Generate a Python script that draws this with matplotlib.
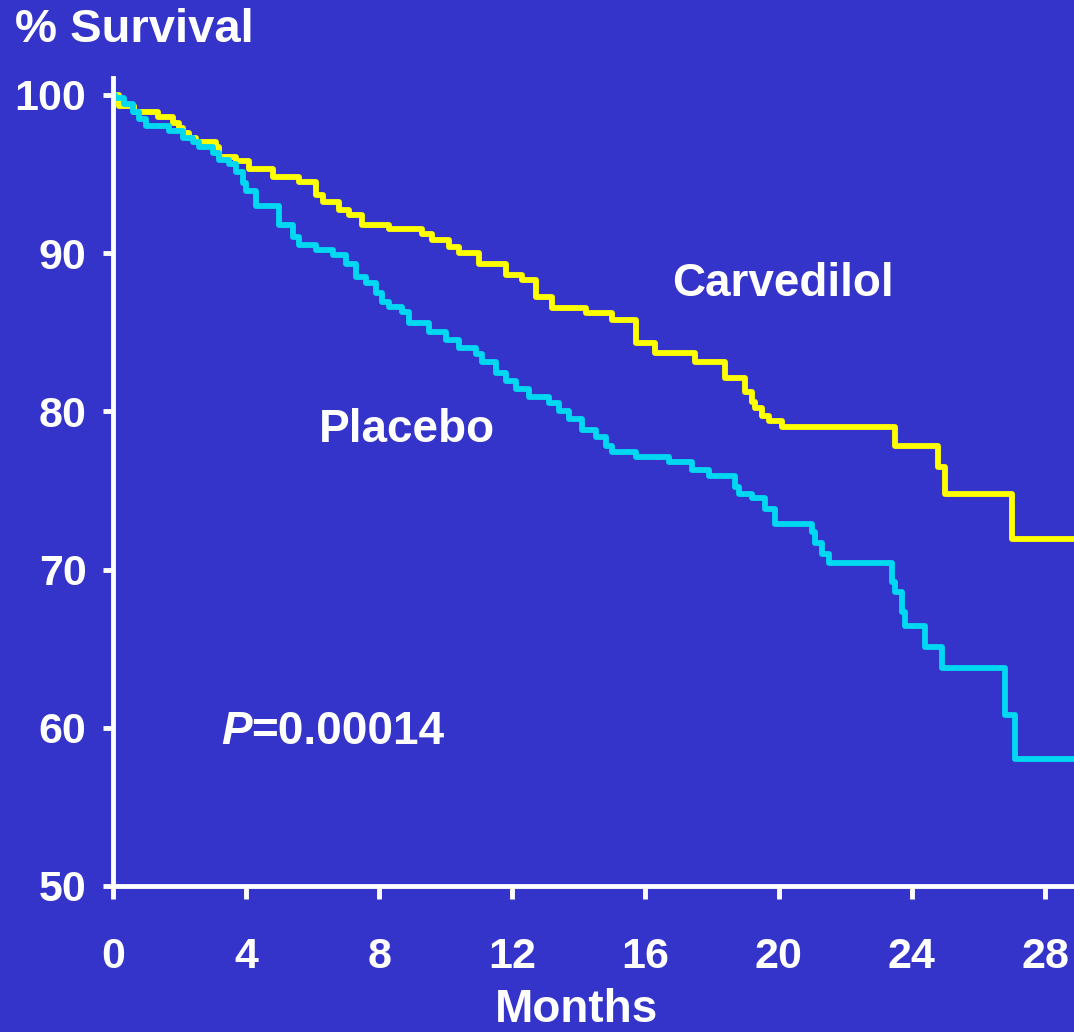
import matplotlib
matplotlib.use("Agg")
import matplotlib.pyplot as plt

# Kaplan-Meier style curves
carv_months = [0, 0.2, 0.65, 1.35, 1.8, 2.0, 2.1, 2.3, 2.5, 3.1, 3.2, 3.7, 4.1, 4.8,
               5.6, 6.1, 6.3, 6.8, 7.1, 7.5, 8.3, 9.3, 9.6, 10.1, 10.4, 11.0, 11.8,
               12.3, 12.7, 13.2, 14.2, 15.0, 15.7, 16.3, 17.5, 18.4, 19.0, 19.2, 19.3,
               19.5, 19.7, 20.1, 23.5, 24.8, 25.0, 27.0, 29.0]
carv_surv = [100, 99.3, 98.9, 98.6, 98.2, 97.9, 97.6, 97.3, 97.0, 96.7, 96.1, 95.8, 95.3,
             94.8, 94.5, 93.7, 93.2, 92.7, 92.4, 91.8, 91.5, 91.2, 90.8, 90.4, 90.0, 89.3,
             88.6, 88.3, 87.2, 86.5, 86.2, 85.8, 84.3, 83.7, 83.1, 82.1, 81.2, 80.6, 80.2,
             79.7, 79.4, 79.0, 77.8, 76.5, 74.8, 71.9, 71.9]

plac_months = [0, 0.06, 0.35, 0.6, 0.8, 1.0, 1.7, 2.1, 2.4, 2.6, 3.0, 3.2, 3.5, 3.7, 3.9,
               4.0, 4.3, 5.0, 5.4, 5.6, 6.1, 6.6, 7.0, 7.3, 7.6, 7.9, 8.1, 8.3, 8.7, 8.9,
               9.5, 10.0, 10.4, 10.9, 11.1, 11.5, 11.8, 12.1, 12.5, 13.1, 13.4, 13.7, 14.1,
               14.5, 14.8, 15.0, 15.7, 16.7, 17.4, 17.9, 18.7, 18.8, 19.2, 19.6, 19.9, 21.0,
               21.1, 21.3, 21.5, 23.4, 23.5, 23.7, 23.8, 24.4, 24.9, 26.8, 27.1, 29.0]
plac_surv = [100, 99.8, 99.4, 98.9, 98.5, 98.0, 97.7, 97.3, 97.0, 96.7, 96.3, 95.9, 95.6,
             95.1, 94.4, 93.9, 93.0, 91.8, 91.0, 90.5, 90.2, 89.9, 89.3, 88.5, 88.1, 87.5,
             86.9, 86.6, 86.3, 85.6, 85.0, 84.5, 84.0, 83.6, 83.1, 82.4, 81.9, 81.4, 80.9,
             80.5, 80.0, 79.5, 78.8, 78.4, 77.8, 77.4, 77.1, 76.8, 76.3, 75.9, 75.2, 74.8,
             74.5, 73.8, 72.9, 72.4, 71.7, 71.0, 70.4, 69.2, 68.6, 67.3, 66.4, 65.1, 63.8,
             60.8, 58.0, 58.0]

x_ticks = [0, 4, 8, 12, 16, 20, 24, 28]
y_ticks = [50, 60, 70, 80, 90, 100]

bg = "#3434CA"
plt.rcParams["font.family"] = ["Liberation Sans", "DejaVu Sans"]
plt.rcParams["font.weight"] = "bold"

fig = plt.figure(figsize=(10.74, 10.32), dpi=100, facecolor=bg)
ax = fig.add_axes([0.105, 0.1415, 0.895, 0.783], facecolor=bg)

ax.plot(carv_months, carv_surv, drawstyle="steps-post", color="#FFFF00", lw=4.2)
ax.plot(plac_months, plac_surv, drawstyle="steps-post", color="#00D8F2", lw=4.2)

ax.set_xlim(0, 28.87)
ax.set_ylim(50, 101.07)
ax.set_xticks(x_ticks)
ax.set_yticks(y_ticks)

for s in ["top", "right"]:
    ax.spines[s].set_visible(False)
for s in ["left", "bottom"]:
    ax.spines[s].set_color("white")
    ax.spines[s].set_linewidth(3.5)

ax.tick_params(axis="x", colors="white", length=9, width=3.5, pad=28, labelsize=31)
ax.tick_params(axis="y", colors="white", length=7, width=3.5, pad=12, labelsize=31)
for lab in ax.get_xticklabels() + ax.get_yticklabels():
    lab.set_fontweight("bold")

fig.text(577 / 1074, 1 - 1010 / 1032, "Months", color="white", fontsize=33,
         fontweight="bold", ha="center", va="center")
fig.text(15 / 1074, 1 - 30 / 1032, "% Survival", color="white", fontsize=34,
         fontweight="bold", ha="left", va="center")

ax.text(16.8, 88.05, "Carvedilol", color="white", fontsize=33, fontweight="bold",
        ha="left", va="center")
ax.text(6.2, 78.8, "Placebo", color="white", fontsize=33, fontweight="bold",
        ha="left", va="center")
ax.text(3.27, 59.7, "P", color="white", fontsize=33, fontweight="bold",
        style="italic", ha="left", va="center")
ax.text(4.15, 59.7, "=0.00014", color="white", fontsize=33, fontweight="bold",
        ha="left", va="center")

fig.savefig("out.png", dpi=100, facecolor=bg)
